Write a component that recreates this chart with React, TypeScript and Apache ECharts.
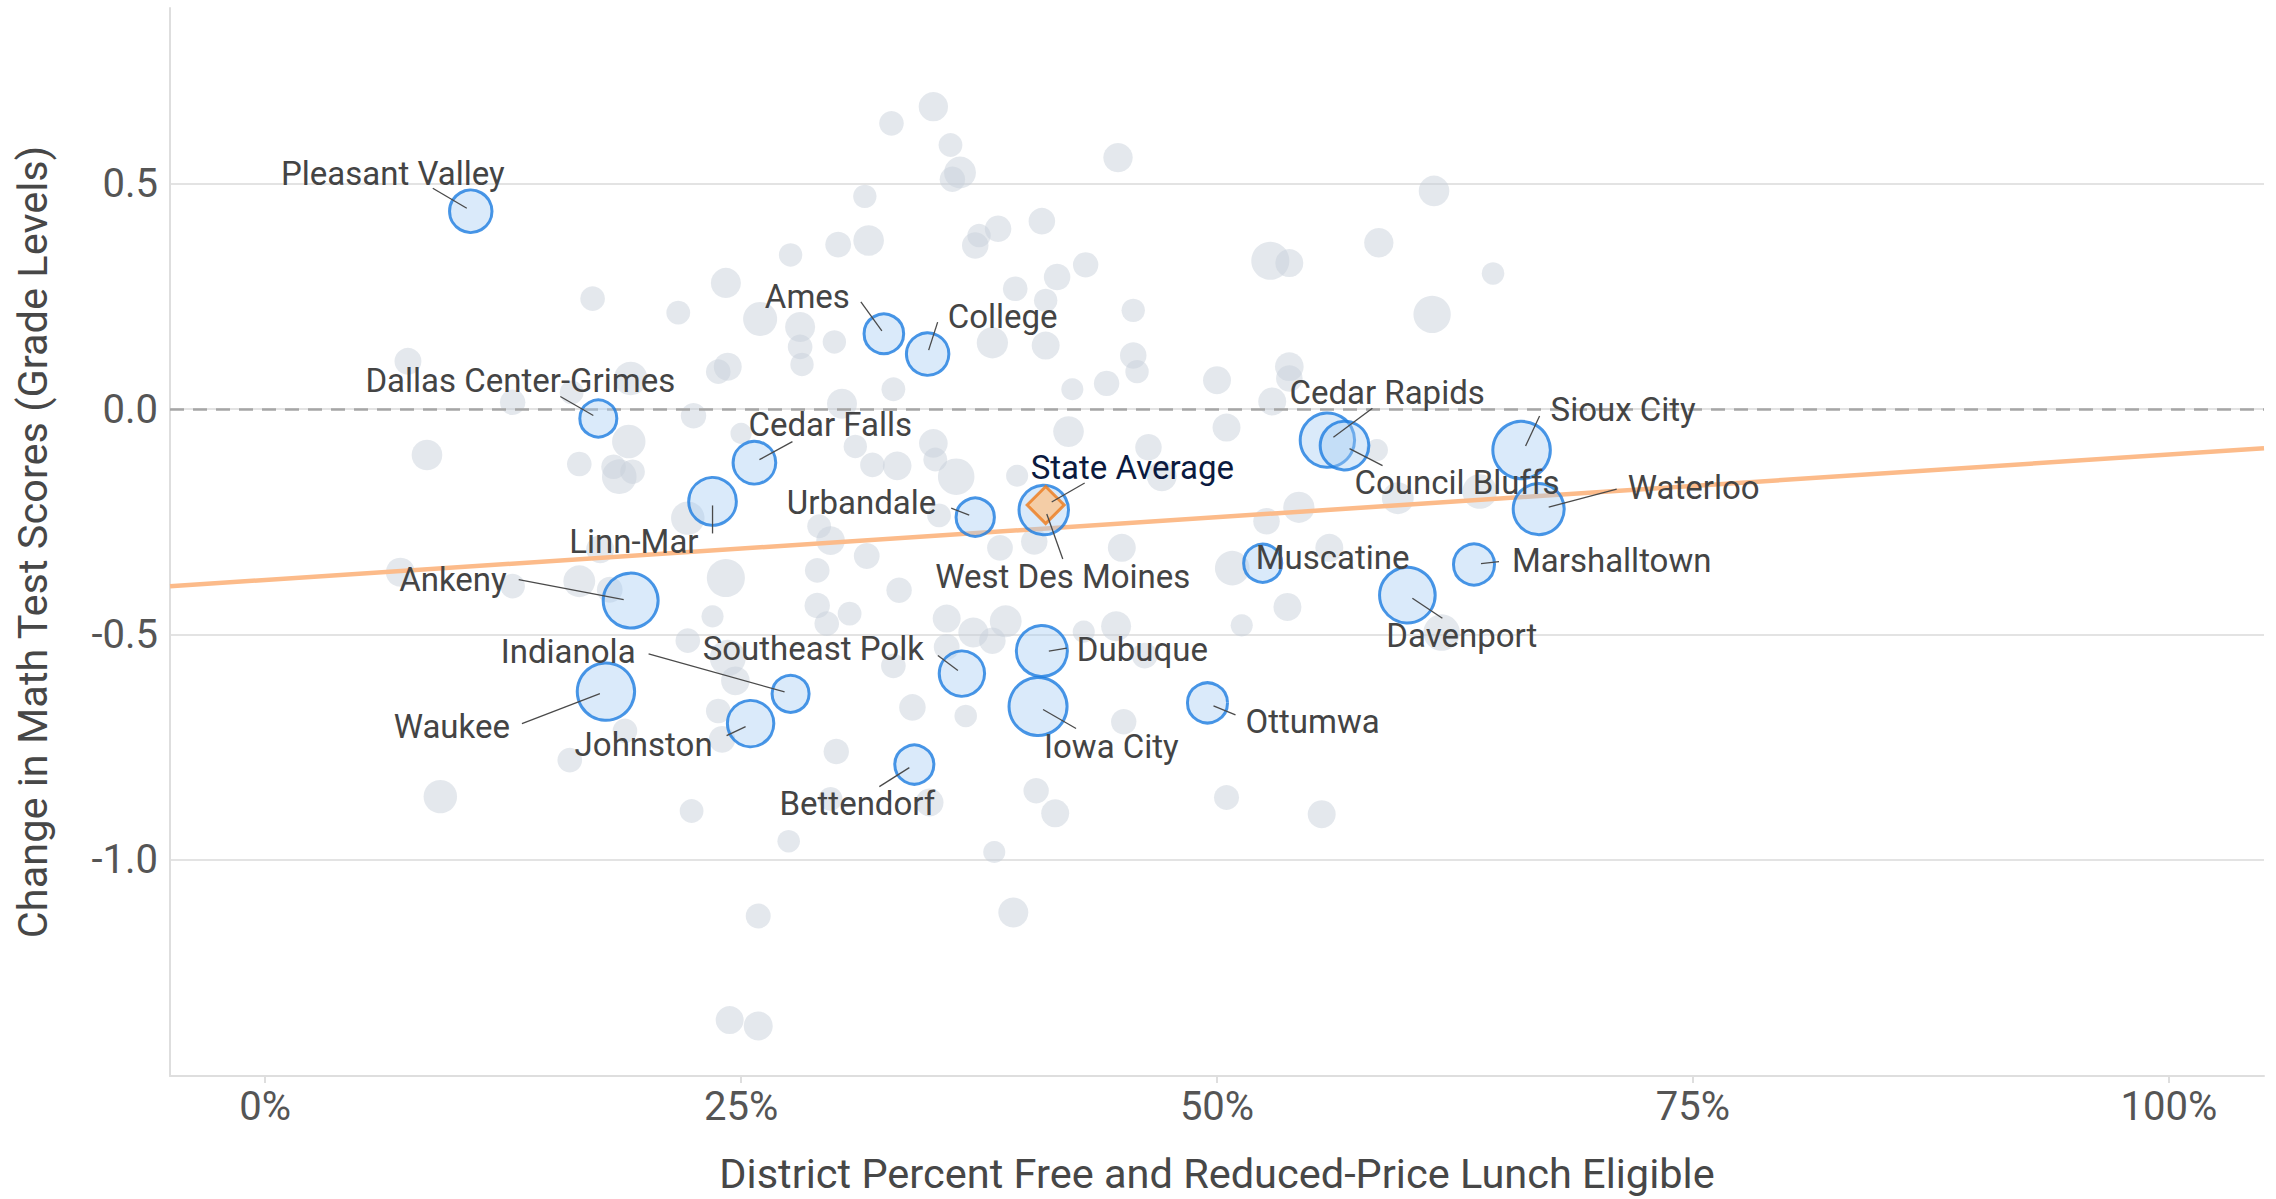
import { useEffect, useRef } from "react";
import * as echarts from "echarts";

// ---------------- DATA ----------------
// Highlighted districts: share of students eligible for free/reduced-price lunch, change in math scores, enrollment (thousands)
const districtNames = [
  "Pleasant Valley", "Dallas Center-Grimes", "Linn-Mar", "Cedar Falls", "Ankeny",
  "Indianola", "Waukee", "Johnston", "Southeast Polk", "Bettendorf",
  "Ames", "College", "Urbandale", "West Des Moines", "Dubuque",
  "Iowa City", "Ottumwa", "Muscatine", "Davenport", "Marshalltown",
  "Cedar Rapids", "Council Bluffs", "Sioux City", "Waterloo",
];
const districtFrl = [
  0.108, 0.175, 0.235, 0.257, 0.192,
  0.276, 0.179, 0.255, 0.366, 0.341,
  0.325, 0.348, 0.373, 0.409, 0.408,
  0.406, 0.495, 0.524, 0.600, 0.635,
  0.558, 0.567, 0.660, 0.669,
];
const districtChange = [
  0.439, -0.021, -0.205, -0.119, -0.425,
  -0.632, -0.627, -0.698, -0.587, -0.789,
  0.167, 0.122, -0.240, -0.224, -0.537,
  -0.660, -0.652, -0.342, -0.413, -0.345,
  -0.069, -0.081, -0.091, -0.222,
];
const districtEnrollment = [
  9.2, 7.0, 11.6, 9.3, 15.4,
  7.0, 16.8, 11.0, 10.5, 7.8,
  8.0, 9.2, 7.5, 12.5, 13.3,
  17.2, 8.2, 7.4, 15.8, 8.6,
  15.1, 12.1, 16.9, 13.3,
];

// All other districts
const otherFrl = [
  0.172, 0.217, 0.242, 0.260, 0.075, 0.192, 0.238, 0.243, 0.130, 0.161,
  0.225, 0.085, 0.191, 0.165, 0.183, 0.193, 0.186, 0.250, 0.222, 0.176,
  0.071, 0.130, 0.165, 0.181, 0.242, 0.235, 0.222, 0.243, 0.247, 0.238,
  0.240, 0.189, 0.160, 0.092, 0.224, 0.244, 0.259, 0.259, 0.290, 0.316,
  0.333, 0.290, 0.295, 0.307, 0.358, 0.372, 0.382, 0.389, 0.358, 0.330,
  0.340, 0.368, 0.300, 0.297, 0.349, 0.275, 0.383, 0.405, 0.415, 0.451,
  0.447, 0.430, 0.462, 0.393, 0.505, 0.529, 0.584, 0.464, 0.471, 0.543,
  0.526, 0.595, 0.638, 0.559, 0.508, 0.537, 0.513, 0.618, 0.505, 0.555,
  0.614, 0.585, 0.528, 0.538, 0.645, 0.613, 0.500, 0.538, 0.538, 0.351,
  0.329, 0.360, 0.365, 0.361, 0.448, 0.315, 0.276, 0.301, 0.317, 0.375,
  0.373, 0.385, 0.408, 0.431, 0.416, 0.394, 0.410, 0.456, 0.382, 0.410,
  0.456, 0.458, 0.330, 0.424, 0.442, 0.281, 0.281, 0.282, 0.299, 0.303,
  0.310, 0.319, 0.332, 0.351, 0.352, 0.363, 0.422, 0.395, 0.291, 0.297,
  0.354, 0.386, 0.404, 0.450,
];
const otherChange = [
  0.245, 0.214, 0.280, 0.200, 0.106, 0.068, 0.083, 0.094, 0.015, 0.037,
  -0.015, -0.102, -0.072, -0.122, -0.128, -0.139, -0.150, -0.054, -0.242, -0.311,
  -0.362, -0.393, -0.382, -0.401, -0.375, -0.460, -0.514, -0.552, -0.603, -0.670,
  -0.733, -0.714, -0.779, -0.860, -0.892, -1.356, -1.369, -1.125, -0.358, -0.326,
  -0.402, -0.436, -0.476, -0.454, -0.465, -0.496, -0.514, -0.471, -0.528, -0.570,
  -0.662, -0.681, -0.760, -0.865, -0.873, -0.959, -0.983, -0.847, -0.897, -0.694,
  -0.482, -0.494, -0.547, -1.117, -0.041, 0.017, -0.091, -0.085, -0.149, -0.218,
  -0.249, -0.198, -0.183, -0.308, -0.353, -0.439, -0.480, -0.496, -0.862, -0.899,
  0.484, 0.369, 0.329, 0.324, 0.301, 0.210, 0.064, 0.094, 0.068, 0.671,
  0.634, 0.586, 0.525, 0.510, 0.558, 0.472, 0.342, 0.365, 0.374, 0.385,
  0.363, 0.400, 0.417, 0.320, 0.293, 0.267, 0.241, 0.219, 0.147, 0.141,
  0.119, 0.083, 0.044, 0.044, 0.057, 0.182, 0.138, 0.099, 0.149, 0.012,
  -0.083, -0.124, -0.126, -0.076, -0.112, -0.150, -0.050, -0.148, -0.260, -0.292,
  -0.236, -0.308, -0.294, -0.308,
];
const otherEnrollment = [
  3.1, 2.9, 4.6, 5.9, 3.7, 5.7, 3.1, 4.0, 3.3, 2.9,
  3.3, 4.8, 5.7, 3.1, 3.1, 3.1, 6.1, 2.3, 5.7, 4.0,
  4.3, 3.1, 5.2, 3.4, 7.4, 2.5, 3.1, 6.6, 4.2, 3.1,
  3.6, 3.1, 3.1, 5.7, 2.9, 4.0, 4.3, 3.2, 3.1, 3.4,
  3.3, 3.3, 3.1, 2.9, 4.0, 4.6, 3.6, 5.2, 3.4, 3.1,
  3.6, 2.6, 3.3, 2.9, 4.0, 2.6, 2.5, 3.3, 4.0, 3.3,
  4.6, 2.5, 3.4, 4.6, 4.0, 4.0, 2.5, 3.6, 4.6, 5.0,
  3.6, 5.2, 6.1, 4.0, 6.1, 4.0, 2.5, 6.8, 3.2, 4.0,
  4.8, 4.4, 7.4, 4.0, 2.6, 7.1, 4.0, 4.2, 3.6, 4.4,
  3.1, 2.9, 5.2, 3.3, 4.4, 2.8, 2.8, 3.4, 4.8, 2.8,
  3.6, 3.6, 3.6, 3.3, 3.6, 3.1, 2.8, 2.8, 5.0, 4.0,
  3.6, 2.8, 2.9, 2.5, 3.3, 4.6, 3.1, 2.8, 2.8, 4.6,
  2.8, 3.1, 4.2, 4.2, 2.9, 6.8, 4.8, 2.5, 2.9, 4.2,
  2.9, 3.4, 3.6, 4.0,
];

const stateAverageName = "State Average";
const stateAverageFrl = 0.41;
const stateAverageChange = -0.213;

// Fitted trend line end points
const trendFrl = [-0.05, 1.05];
const trendChange = [-0.393, -0.087];

const xTicks = [0, 0.25, 0.5, 0.75, 1];
const yTicks = [-1, -0.5, 0, 0.5];

const xAxisTitle = "District Percent Free and Reduced-Price Lunch Eligible";
const yAxisTitle = "Change in Math Test Scores (Grade Levels)";

// ---------------- LABEL PLACEMENT (pixel offsets from the mark) ----------------
type Lay = { align: "left" | "right" | "center"; tx: number; ty: number; line?: number[] };
const labelLayout: Record<string, Lay> = {
  "Pleasant Valley": { align: "center", tx: -78, ty: -38, line: [-38, -23, -4, -3] },
  "Dallas Center-Grimes": { align: "center", tx: -78, ty: -38, line: [-38, -22, -5, -3] },
  "Linn-Mar": { align: "right", tx: -14, ty: 40, line: [0, 4, 0, 32] },
  "Cedar Falls": { align: "left", tx: -6, ty: -38, line: [5, -3, 38, -21] },
  "Ankeny": { align: "right", tx: -124, ty: -21, line: [-112, -21, -7, -1] },
  "Indianola": { align: "right", tx: -155, ty: -42, line: [-142, -40, -6, -2] },
  "Waukee": { align: "right", tx: -96, ty: 35, line: [-84, 32, -6, 2] },
  "Johnston": { align: "right", tx: -38, ty: 21, line: [-24, 12, -5, 3] },
  "Southeast Polk": { align: "right", tx: -38, ty: -25, line: [-24, -18, -4, -3] },
  "Bettendorf": { align: "center", tx: -57, ty: 39, line: [-35, 22, -5, 3] },
  "Ames": { align: "right", tx: -34, ty: -37, line: [-23, -32, -2, -3] },
  "College": { align: "left", tx: 20, ty: -38, line: [10, -32, 1, -4] },
  "Urbandale": { align: "right", tx: -39, ty: -15, line: [-24, -9, -6, -2] },
  "State Average": { align: "left", tx: -15, ty: -38, line: [39, -22, 6, -3] },
  "West Des Moines": { align: "center", tx: 19, ty: 66, line: [3, 4, 19, 49] },
  "Dubuque": { align: "left", tx: 35, ty: -2, line: [7, 0, 25, -3] },
  "Iowa City": { align: "left", tx: 6, ty: 40, line: [5, 3, 38, 22] },
  "Ottumwa": { align: "left", tx: 38, ty: 19, line: [6, 3, 28, 12] },
  "Muscatine": { align: "left", tx: -7, ty: -6 },
  "Davenport": { align: "left", tx: -21, ty: 40, line: [5, 3, 35, 23] },
  "Marshalltown": { align: "left", tx: 38, ty: -4, line: [7, -1, 25, -3] },
  "Cedar Rapids": { align: "left", tx: -38, ty: -48, line: [45, -32, 6, -3] },
  "Council Bluffs": { align: "left", tx: 10, ty: 37, line: [5, 3, 38, 20] },
  "Sioux City": { align: "left", tx: 29, ty: -41, line: [18, -34, 4, -4] },
  "Waterloo": { align: "left", tx: 89, ty: -22, line: [78, -20, 10, -2] },
};

const FONT = "Roboto";
const sizeFromEnrollment = (e: number) => 14 * Math.sqrt(e);

export default function App() {
  const ref = useRef<HTMLDivElement>(null);

  useEffect(() => {
    if (!ref.current) return;
    const chart = echarts.init(ref.current, undefined, { renderer: "svg" });

    const otherData = otherFrl.map((x, i) => [x, otherChange[i], otherEnrollment[i]]);
    const districtData = districtFrl.map((x, i) => ({
      name: districtNames[i],
      value: [x, districtChange[i], districtEnrollment[i]],
    }));
    const labelItems = [
      ...districtNames.map((n, i) => ({ name: n, x: districtFrl[i], y: districtChange[i] })),
      { name: stateAverageName, x: stateAverageFrl, y: stateAverageChange },
    ];

    chart.setOption({
      animation: false,
      backgroundColor: "#ffffff",
      grid: { left: 170, right: 12, top: 8, bottom: 118, containLabel: false },
      xAxis: {
        type: "value",
        min: -0.05,
        max: 1.05,
        name: xAxisTitle,
        nameLocation: "middle",
        nameGap: 76,
        nameTextStyle: { fontFamily: FONT, fontSize: 41.5, color: "#474747" },
        axisLine: { show: true, onZero: false, lineStyle: { color: "#dedede", width: 2 } },
        axisTick: { show: true, customValues: xTicks, length: 7, lineStyle: { color: "#dedede", width: 2 } },
        axisLabel: {
          customValues: xTicks,
          margin: 10,
          fontFamily: FONT,
          fontSize: 40,
          color: "#555555",
          formatter: (v: number) => `${Math.round(v * 100)}%`,
        },
        splitLine: { show: false },
      },
      yAxis: {
        type: "value",
        min: -1.48,
        max: 0.89,
        name: yAxisTitle,
        nameLocation: "middle",
        nameGap: 117,
        nameRotate: 90,
        nameTextStyle: { fontFamily: FONT, fontSize: 41.5, color: "#474747" },
        axisLine: { show: true, onZero: false, lineStyle: { color: "#dedede", width: 2 } },
        axisTick: { show: false, customValues: yTicks },
        axisLabel: {
          customValues: yTicks,
          margin: 12,
          fontFamily: FONT,
          fontSize: 40,
          color: "#555555",
          formatter: (v: number) => v.toFixed(1),
        },
        splitLine: { show: true, lineStyle: { color: "#e3e3e3", width: 2 } },
      },
      series: [
        {
          type: "scatter",
          z: 2,
          data: otherData,
          symbol: "circle",
          symbolSize: (v: number[]) => sizeFromEnrollment(v[2]),
          itemStyle: { color: "rgba(198,206,217,0.6)" },
          silent: true,
        },
        {
          type: "scatter",
          z: 3,
          data: [],
          markLine: {
            silent: true,
            symbol: "none",
            label: { show: false },
            lineStyle: { color: "#a6a6a6", width: 2.5, type: [14, 9] },
            data: [{ yAxis: 0 }],
          },
        },
        {
          type: "line",
          z: 4,
          data: trendFrl.map((x, i) => [x, trendChange[i]]),
          showSymbol: false,
          symbol: "none",
          lineStyle: { color: "#fcbb8a", width: 4.5 },
          silent: true,
        },
        {
          type: "scatter",
          z: 5,
          data: districtData,
          symbol: "circle",
          symbolSize: (v: number[]) => sizeFromEnrollment(v[2]),
          itemStyle: { color: "rgba(166,205,243,0.52)", borderColor: "#1b7ce0", borderWidth: 3 },
          silent: true,
        },
        {
          type: "scatter",
          z: 6,
          data: [[stateAverageFrl, stateAverageChange]],
          symbol: "diamond",
          symbolSize: 37,
          itemStyle: { color: "#fac591", borderColor: "#ee7a1c", borderWidth: 3 },
          silent: true,
        },
        {
          type: "custom",
          z: 7,
          clip: false,
          silent: true,
          data: labelItems.map((d) => [d.x, d.y]),
          encode: { x: 0, y: 1 },
          renderItem: (params: any, api: any) => {
            const item = labelItems[params.dataIndex];
            const p = api.coord([item.x, item.y]);
            const lay = labelLayout[item.name];
            const children: any[] = [];
            if (lay.line) {
              children.push({
                type: "line",
                shape: {
                  x1: p[0] + lay.line[0],
                  y1: p[1] + lay.line[1],
                  x2: p[0] + lay.line[2],
                  y2: p[1] + lay.line[3],
                },
                style: { stroke: "#4a4a4a", lineWidth: 1.3 },
              });
            }
            children.push({
              type: "text",
              x: p[0] + lay.tx,
              y: p[1] + lay.ty,
              style: {
                text: item.name,
                fill: item.name === stateAverageName ? "#0b1a3f" : "#444444",
                fontSize: 33,
                fontFamily: FONT,
                align: lay.align,
                verticalAlign: "middle",
              },
            });
            return { type: "group", children };
          },
        },
      ],
    });

    return () => chart.dispose();
  }, []);

  return (
    <div
      ref={ref}
      style={{ position: "fixed", left: 0, top: 0, width: "2276px", height: "1199px", background: "#fff" }}
    />
  );
}
